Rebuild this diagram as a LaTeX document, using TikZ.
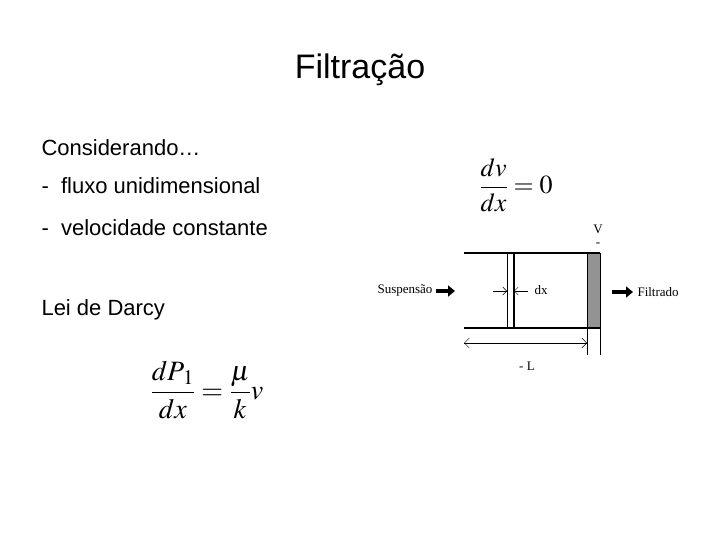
\documentclass[tikz,border=0pt]{standalone}
\usepackage{amsmath}
\usepackage{mathptmx}
\usepackage{fontspec}
\setmainfont{Liberation Sans}
\newfontfamily\serif{Liberation Serif}
\usetikzlibrary{arrows.meta}
\tikzset{body/.style={anchor=west,font=\fontsize{22}{26}\selectfont},
  small/.style={font=\serif\fontsize{13}{15}\selectfont},
  wall/.style={line width=1.6pt},
  fat/.style={line width=3.5pt,-{Triangle[length=7pt,width=11pt]}}}
\begin{document}
\begin{tikzpicture}[x=1pt,y=-1pt]
\useasboundingbox (0,0) rectangle (720,540);
\node (title) at (360,70) {\fontsize{34}{38}\selectfont Filtração};
\node[body] (l1) at (38,148) {Considerando…};
\node[body] (l2) at (38,186) {-\ \ fluxo unidimensional};
\node[body] (l3) at (38,228) {-\ \ velocidade constante};
\node[body] (l4) at (38,310) {Lei de Darcy};
\node (eqa) at (516,185) {\fontsize{26}{30}\selectfont$\dfrac{dv}{dx}=0$};
\node (eqb) at (207,390) {\fontsize{28}{32}\selectfont$\dfrac{dP_{\,1}}{dx}=\dfrac{\mu}{k}v$};
% filter
\fill[gray!85] (587,253) rectangle (600,328);
\draw[wall] (464,253) -- (600,253);
\draw[wall] (464,328) -- (600,328);
\draw (507,253) -- (507,328);
\draw[line width=1.4pt] (514,253) -- (514,328);
\draw (587,253) -- (587,355);
\draw (600,253) -- (600,355);
\coordinate (dl) at (464,343);
\coordinate (dr) at (587,343);
\draw[{Straight Barb[length=5pt]}-{Straight Barb[length=5pt]}] (dl) -- (dr);
\draw[-{Straight Barb[length=4pt]}] (493,291) -- (507,291);
\draw[-{Straight Barb[length=4pt]}] (528,291) -- (514,291);
\node[small] (dx) at (541,290) {dx};
\node[small] (len) at (527,366) {- L};
\node[small,inner sep=1pt] (vv) at (598,229) {V};
\node[small,inner sep=1pt] (dash) at (598,245) {-};
\node[small] (susp) at (405,291) {Suspensão};
\coordinate (sa) at (436,291);
\coordinate (sb) at (455,291);
\draw[fat] (sa) -- (sb);
\node[small,anchor=west] (filt) at (634,292) {Filtrado};
\coordinate (fa) at (612,292);
\coordinate (fb) at (633,292);
\draw[fat] (fa) -- (fb);
\end{tikzpicture}
\end{document}
